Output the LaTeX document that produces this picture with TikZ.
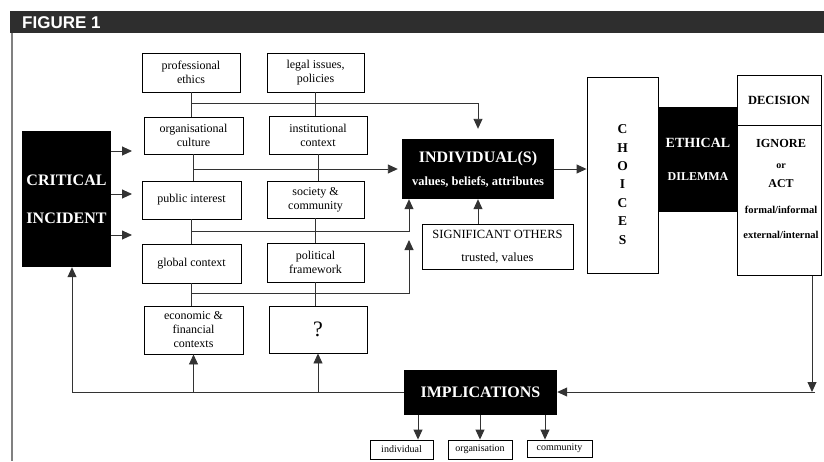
\documentclass[tikz,border=0pt]{standalone}
\usepackage{fontspec}
\setmainfont{Liberation Serif}
\newfontfamily\headfont{Liberation Sans}
\usetikzlibrary{arrows.meta,calc}
\definecolor{bar}{HTML}{2E2E2E}
\definecolor{wirec}{HTML}{333333}
\definecolor{rim}{HTML}{808080}

\begin{document}
\begin{tikzpicture}[x=1pt,y=-1pt,
  box/.style={draw=black,line width=0.9pt,fill=white,align=center,inner sep=0pt,font=\fontsize{12}{14}\selectfont},
  blk/.style={fill=black,text=white,align=center,inner sep=0pt},
  wire/.style={draw=wirec,line width=0.9pt},
  arr/.style={wire,-{Triangle[length=10pt,width=9pt]}}]
\useasboundingbox (0,0) rectangle (824,461);
% header bar and frame
\fill[bar] (10,11) rectangle (824,33);
\node[anchor=west,text=white,inner sep=0pt,font=\headfont\bfseries\fontsize{17}{17}\selectfont] (fig) at (22,22.5) {FIGURE 1};
\draw[rim,line width=2pt] (12,33) -- (12,461);
% context boxes
\node[box,minimum width=98,minimum height=39] (prof) at (191,72.5) {professional\\ethics};
\node[box,minimum width=97,minimum height=39] (legal) at (315.5,72.5) {legal issues,\\policies};
\node[box,minimum width=99,minimum height=37] (org) at (193.5,135.5) {organisational\\culture};
\node[box,minimum width=98,minimum height=38] (inst) at (318,135) {institutional\\context};
\node[box,minimum width=99,minimum height=38] (pub) at (191.5,200) {public interest};
\node[box,minimum width=97,minimum height=37] (soc) at (315.5,199.5) {society \&\\community};
\node[box,minimum width=99,minimum height=39] (glob) at (191.5,263.5) {global context};
\node[box,minimum width=97,minimum height=39] (pol) at (315.5,262.5) {political\\framework};
\node[box,minimum width=99,minimum height=48] (econ) at (193.5,330) {economic \&\\financial\\contexts};
\node[box,minimum width=98,minimum height=47,font=\fontsize{22}{22}\selectfont] (q) at (318,329.5) {?};
% main chain
\node[blk,minimum width=89,minimum height=136,font=\bfseries\fontsize{16}{38}\selectfont] (crit) at (66.5,199) {CRITICAL\\INCIDENT};
\node[blk,minimum width=152,minimum height=60,font=\bfseries\fontsize{12.5}{23}\selectfont] (indiv) at (478,169) {{\fontsize{16}{23}\selectfont INDIVIDUAL(S)}\\values, beliefs, attributes};
\node[box,minimum width=151,minimum height=45,font=\fontsize{12.5}{23}\selectfont] (sig) at (497.5,246.5) {SIGNIFICANT OTHERS\\trusted, values};
\node[box,minimum width=71,minimum height=196] (choices) at (622.5,175) {};
\node[anchor=north,inner sep=0pt,align=center,font=\bfseries\fontsize{13.5}{18.4}\selectfont] (chtext) at (622.5,124.5) {C\\H\\O\\I\\C\\E\\S};
\node[blk,minimum width=78,minimum height=105,font=\bfseries\fontsize{12}{33}\selectfont] (ethic) at (698,159.5) {{\fontsize{14}{33}\selectfont ETHICAL}\\DILEMMA};
\node[box,minimum width=84,minimum height=50,font=\bfseries\fontsize{12.5}{14}\selectfont] (dec) at (779,100) {DECISION};
\node[box,minimum width=84,minimum height=150,anchor=north] (opt) at (dec.south) {};
\node[anchor=north,inner sep=0pt,align=center,font=\bfseries\fontsize{10.5}{20}\selectfont] (opttext) at (781,139) {{\fontsize{12.3}{20}\selectfont IGNORE}\\[1pt]{\fontsize{10}{20}\selectfont or}\\[-1pt]{\fontsize{12}{20}\selectfont ACT}\\[6pt]formal/informal\\[5pt]external/internal};
\node[blk,minimum width=153,minimum height=45,font=\bfseries\fontsize{16}{18}\selectfont] (impl) at (480.5,392.5) {IMPLICATIONS};
\node[box,minimum width=63,minimum height=19,font=\fontsize{10}{12}\selectfont] (indl) at (401.5,449.5) {individual};
\node[box,minimum width=64,minimum height=19,font=\fontsize{10}{12}\selectfont] (orgn) at (480,449.5) {organisation};
\node[box,minimum width=65,minimum height=17,font=\fontsize{10}{12}\selectfont] (comm) at (559.5,448.5) {community};
% bus lines
\coordinate (bus1) at (0,103);
\coordinate (bus3) at (0,231);
\coordinate (bus4) at (0,293);
\coordinate (upx) at (409,0);
\coordinate (tip4) at (409,240);
\coordinate (cu) at (72,0);
\coordinate (dn) at (812,392);
\coordinate (dnr) at (815,392);
\draw[wire] (prof.south) -- (prof.south |- org.north);
\draw[wire] (legal.south) -- (legal.south |- inst.north);
\draw[arr,shorten >=10pt] (prof.south |- bus1) -| (indiv.north);
\draw[wire] (org.south) -- (org.south |- pub.north);
\draw[wire] (inst.south) -- (inst.south |- soc.north);
\draw[arr,shorten >=4pt] (org.south |- indiv.west) -- (indiv.west);
\draw[wire] (pub.south) -- (pub.south |- glob.north);
\draw[wire] (soc.south) -- (soc.south |- pol.north);
\draw[arr] (pub.south |- bus3) -| (upx |- indiv.south);
\draw[wire] (glob.south) -- (glob.south |- econ.north);
\draw[wire] (pol.south) -- (pol.south |- q.north);
\draw[arr] (glob.south |- bus4) -| (tip4);
\foreach \y [count=\i] in {151,194,235} {
  \coordinate (ca\i) at (132,\y);
  \draw[arr] (crit.east |- ca\i) -- (ca\i);
}
\draw[arr] (indiv.east) -- (indiv.east -| choices.west);
\draw[arr] (sig.north -| indiv.south) -- (indiv.south);
% feedback loop
\draw[arr] (opt.south -| dn) -- (dn);
\draw[arr] (dnr) -- (impl.east |- dnr);
\draw[arr] (impl.west) -| (cu |- crit.south);
\draw[arr] (econ.south |- impl.west) -- (econ.south);
\draw[arr] (q.south |- impl.west) -- (q.south);
\foreach \x/\t in {418/indl,480/orgn,545/comm} {
  \coordinate (d\t) at (\x,0);
  \draw[arr] (d\t |- impl.south) -- (d\t |- \t.north);
}
\end{tikzpicture}
\end{document}
